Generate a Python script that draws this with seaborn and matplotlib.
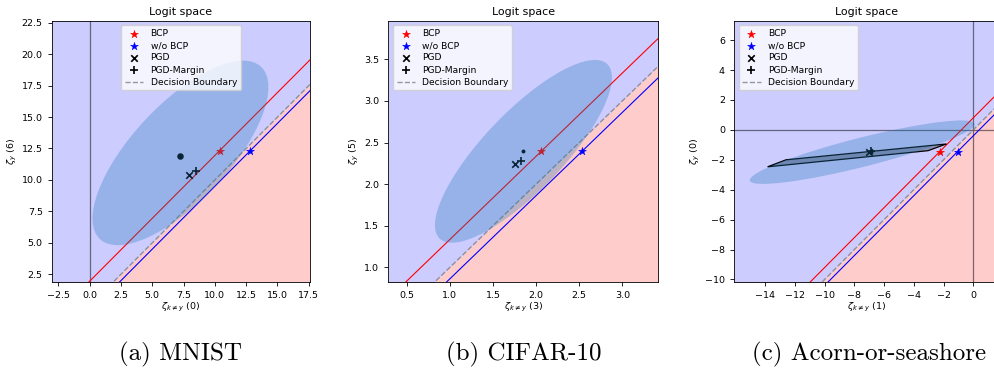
import matplotlib
matplotlib.use("Agg")
import matplotlib.pyplot as plt
from matplotlib.patches import Ellipse, Polygon
import numpy as np
import pandas as pd
import seaborn as sns

# one entry per panel: MNIST, CIFAR-10, Acorn-or-seashore
captions = ["(a) MNIST", "(b) CIFAR-10", "(c) Acorn-or-seashore"]
x_labels = [r"$\zeta_{k \neq y}$ (0)", r"$\zeta_{k \neq y}$ (3)", r"$\zeta_{k \neq y}$ (1)"]
y_labels = [r"$\zeta_y$ (6)", r"$\zeta_y$ (5)", r"$\zeta_y$ (0)"]

x_limits = [(-3.03, 17.6), (0.286, 3.418), (-16.1, 1.8)]
y_limits = [(1.91, 22.66), (0.827, 3.964), (-10.15, 7.3)]
x_ticks = [[-2.5, 0.0, 2.5, 5.0, 7.5, 10.0, 12.5, 15.0, 17.5],
           [0.5, 1.0, 1.5, 2.0, 2.5, 3.0],
           [-14, -12, -10, -8, -6, -4, -2, 0]]
y_ticks = [[2.5, 5.0, 7.5, 10.0, 12.5, 15.0, 17.5, 20.0, 22.5],
           [1.0, 1.5, 2.0, 2.5, 3.0, 3.5],
           [-10, -8, -6, -4, -2, 0, 2, 4, 6]]

bcp_x = [10.4, 2.054, -2.25]
bcp_y = [12.3, 2.398, -1.45]
wo_bcp_x = [12.8, 2.53, -1.05]
wo_bcp_y = [12.3, 2.398, -1.45]
pgd_x = [7.9, 1.756, -7.0]
pgd_y = [10.4, 2.238, -1.45]
margin_x = [8.5, 1.822, -6.85]
margin_y = [10.75, 2.274, -1.42]
center_x = [7.25, 1.845, -6.9]
center_y = [11.9, 2.40, -1.45]

# boundaries y = x + offset
bcp_offset = [1.95, 0.335, 0.8]
wo_bcp_offset = [-0.5, -0.138, -0.4]

# uncertainty ellipses
ell_cx = [7.25, 1.853, -7.47]
ell_cy = [12.15, 2.394, -1.49]
ell_w = [18.8, 2.86, 15.6]
ell_h = [7.7, 0.93, 1.95]
ell_angle = [46.75, 47.4, 14.1]
dot_size = [22, 8, 8]

# reachable set polygon, acorn panel only
poly_x = [-13.84, -12.6, -1.8, -3.04]
poly_y = [-2.47, -2.0, -0.94, -1.39]

boxes = [(0.052, 0.2528, 0.2596, 0.6923),
         (0.3903, 0.2528, 0.2714, 0.6923),
         (0.7377, 0.2528, 0.2673, 0.6923)]
legend_loc = ["upper center", "upper left", "upper left"]

fig = plt.figure(figsize=(9.95, 3.77), dpi=100)

for i in range(3):
    ax = fig.add_axes(boxes[i])
    xs = np.array(x_limits[i])
    lo, hi = y_limits[i]

    ax.fill_between(xs, xs, hi, color="blue", alpha=0.2, lw=0, zorder=0)
    ax.fill_between(xs, lo, xs, color="red", alpha=0.2, lw=0, zorder=0)
    if xs[0] < 0 < xs[1]:
        ax.axvline(0, color="k", alpha=0.5, lw=0.9, zorder=1)
    if lo < 0 < hi:
        ax.axhline(0, color="k", alpha=0.5, lw=0.9, zorder=1)

    sns.lineplot(x=xs, y=xs + bcp_offset[i], color="red", lw=0.8, ax=ax, zorder=2)
    sns.lineplot(x=xs, y=xs + wo_bcp_offset[i], color="blue", lw=0.8, ax=ax, zorder=2)
    sns.lineplot(x=xs, y=xs, color="gray", ls="--", lw=1.0, alpha=0.8, ax=ax,
                 zorder=2, label="Decision Boundary")

    if i == 2:
        ax.add_patch(Polygon(np.column_stack([poly_x, poly_y]), closed=True,
                             facecolor=(0, 0, 0, 0.3), edgecolor="k", lw=0.9, zorder=3))

    sns.scatterplot(x=[bcp_x[i]], y=[bcp_y[i]], marker="*", s=36, color="red",
                    edgecolor="red", linewidth=0.3, label="BCP", ax=ax, zorder=4)
    sns.scatterplot(x=[wo_bcp_x[i]], y=[wo_bcp_y[i]], marker="*", s=36, color="blue",
                    edgecolor="blue", linewidth=0.3, label="w/o BCP", ax=ax, zorder=4)
    sns.scatterplot(x=[pgd_x[i]], y=[pgd_y[i]], marker="x", s=22, color="k",
                    linewidth=1.2, label="PGD", ax=ax, zorder=4)
    sns.scatterplot(x=[margin_x[i]], y=[margin_y[i]], marker="+", s=26, color="k",
                    linewidth=1.2, label="PGD-Margin", ax=ax, zorder=4)
    sns.scatterplot(x=[center_x[i]], y=[center_y[i]], marker="o", s=dot_size[i],
                    color="k", edgecolor="k", linewidth=0, ax=ax, zorder=4)

    ax.add_patch(Ellipse((ell_cx[i], ell_cy[i]), ell_w[i], ell_h[i], angle=ell_angle[i],
                         facecolor="C0", alpha=0.3, lw=0, zorder=5))

    handles, labels = ax.get_legend_handles_labels()
    order = ["BCP", "w/o BCP", "PGD", "PGD-Margin", "Decision Boundary"]
    hmap = dict(zip(labels, handles))
    ax.legend([hmap[k] for k in order], order, loc=legend_loc[i], fontsize=6.6,
              labelspacing=0.35).set_zorder(10)

    ax.set_xlim(*x_limits[i])
    ax.set_ylim(lo, hi)
    ax.set_xticks(x_ticks[i])
    ax.set_yticks(y_ticks[i])
    ax.tick_params(labelsize=6.8, length=3, width=0.6)
    for sp in ax.spines.values():
        sp.set_linewidth(0.6)
    ax.set_title("Logit space", fontsize=7.9, pad=4)
    ax.set_xlabel(x_labels[i], fontsize=6.8, labelpad=1)
    ax.set_ylabel(y_labels[i], fontsize=6.8, labelpad=2)

    cx = boxes[i][0] + boxes[i][2] / 2
    if i == 2:
        cx = 869 / 995
    fig.text(cx, 0.06, captions[i], family="cmr10", fontsize=18, ha="center", va="center")

fig.savefig("out.png", dpi=100)
